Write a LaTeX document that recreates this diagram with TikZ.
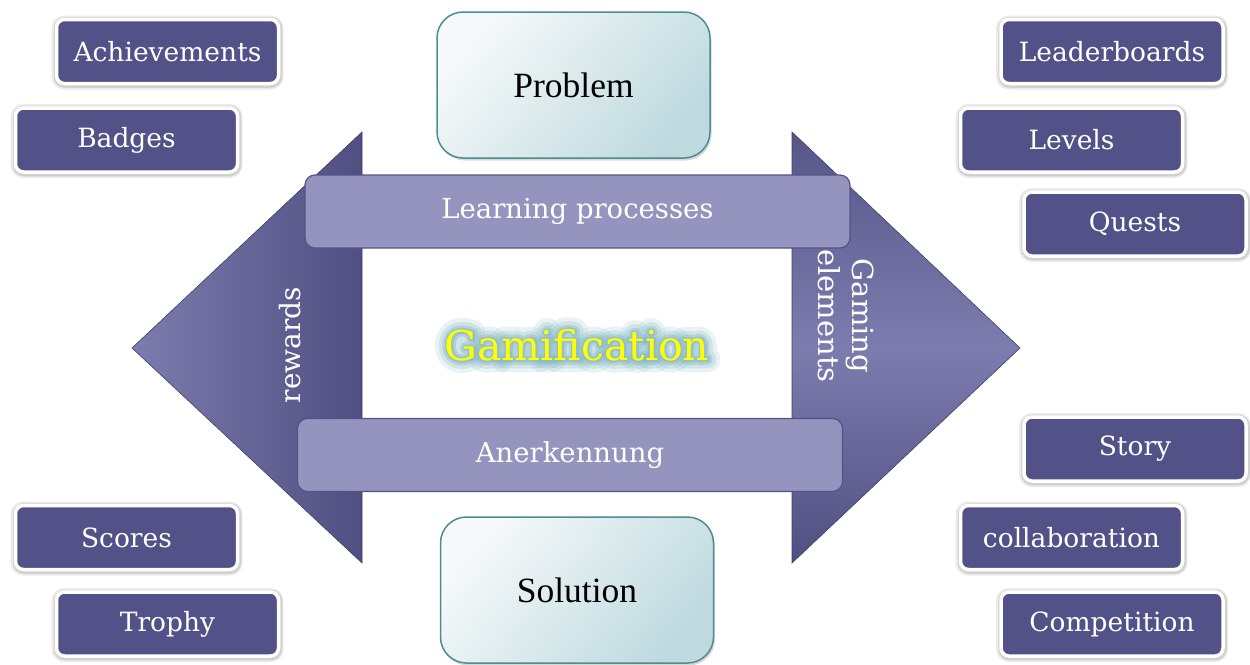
\documentclass[tikz,border=0pt]{standalone}
\usepackage{fontspec}
\setmainfont{DejaVu Serif}
\newfontfamily\timesfont{Liberation Serif}
\usetikzlibrary{shadows}
\definecolor{boxfill}{HTML}{525288}
\definecolor{barfill}{HTML}{9494BE}
\definecolor{barline}{HTML}{53538A}
\definecolor{tealline}{HTML}{4B8D92}
\definecolor{paleleft}{HTML}{F6F9F9}
\definecolor{paleright}{HTML}{BFDADF}
\definecolor{trilight}{HTML}{7C7CAE}
\definecolor{tridark}{HTML}{4F4F82}
\definecolor{glowc}{HTML}{86B8C2}
\definecolor{gold}{HTML}{FFFF00}
% outline text: stroke the glyphs with a given width (in pt)
\newcommand{\strokedtext}[2]{\special{pdf:literal 1 Tr #1 w 1 j 1 J}#2\special{pdf:literal 0 Tr}}
\tikzset{
  tagbox/.style={rectangle, rounded corners=8pt, fill=boxfill, draw=white,
    line width=3.5pt, text=white, minimum width=222pt, minimum height=64pt,
    font=\fontsize{26.5}{31}\selectfont,
    preaction={draw=black!8, line width=10pt, transform canvas={yshift=-1pt}},
    preaction={draw=black!18, line width=6.5pt, transform canvas={xshift=0.5pt, yshift=-1pt}}},
  bar/.style={rectangle, rounded corners=10pt, fill=barfill, draw=barline,
    line width=1.2pt, text=white, minimum width=545pt, minimum height=73pt,
    font=\fontsize{27.5}{32}\selectfont},
  ends/.style={rectangle, rounded corners=26pt, shading=axis, top color=paleleft,
    bottom color=paleright, shading angle=50, draw=tealline, line width=1.5pt, text=black,
    minimum width=273pt, minimum height=146pt,
    font=\timesfont\fontsize{35.5}{40}\selectfont,
    drop shadow={opacity=0.3, shadow xshift=1.5pt, shadow yshift=-2.5pt}},
  tri/.style={draw=tridark!80!black, line width=0.6pt},
  sidetext/.style={text=white, align=center},
  titlefont/.style={font=\fontsize{41}{46}\selectfont},
}
\begin{document}
\begin{tikzpicture}[x=1pt, y=-1pt]
\useasboundingbox (0,0) rectangle (1250,664);

% the two arrow heads
\shade[tri, left color=trilight, right color=tridark]
  (362,132) -- (132,348) -- (362,563) -- cycle;
\shade[tri, top color=tridark!85!trilight, bottom color=tridark, middle color=trilight]
  (792,132) -- (1020,348) -- (792,563) -- cycle;

\node[sidetext, rotate=90, font=\fontsize{28}{32}\selectfont] (rew) at (290,345) {rewards};
\node[sidetext, rotate=-90, font=\fontsize{29}{34}\selectfont] (gam) at (846,316) {Gaming\\elements};

% horizontal bars
\node[bar] (learn) at (577.5,211.5) {Learning processes};
\node[bar] (aner) at (570,455) {Anerkennung};

% problem and solution
\node[ends] (prob) at (573.5,85) {Problem};
\node[ends] (sol) at (577,590) {Solution};

% glowing title: soft halo of stroked glyphs under the yellow word
\coordinate (gc) at (577,345);
\node[titlefont, text=glowc, opacity=0.18] (halo-a) at (gc) {\strokedtext{24}{Gamification}};
\node[titlefont, text=glowc, opacity=0.25] (halo-b) at (gc) {\strokedtext{16}{Gamification}};
\node[titlefont, text=glowc, opacity=0.4] (halo-c) at (gc) {\strokedtext{9}{Gamification}};
\node[titlefont, text=glowc, opacity=0.6] (halo-d) at (gc) {\strokedtext{4}{Gamification}};
\node[titlefont, text=gold] (title) at (gc) {Gamification};

% reward items
\node[tagbox] (ach) at (167.5,51.5) {Achievements};
\node[tagbox] (bad) at (126.5,140) {Badges};
\node[tagbox] (sco) at (126.5,537.5) {Scores};
\node[tagbox] (tro) at (167.5,624) {Trophy};

% gaming elements
\node[tagbox] (lead) at (1112,51.5) {Leaderboards};
\node[tagbox] (lev) at (1071.5,140) {Levels};
\node[tagbox] (que) at (1135,224) {Quests};
\node[tagbox] (sto) at (1135,449) {Story};
\node[tagbox] (col) at (1071.5,537.5) {collaboration};
\node[tagbox] (com) at (1112,624) {Competition};
\end{tikzpicture}
\end{document}
